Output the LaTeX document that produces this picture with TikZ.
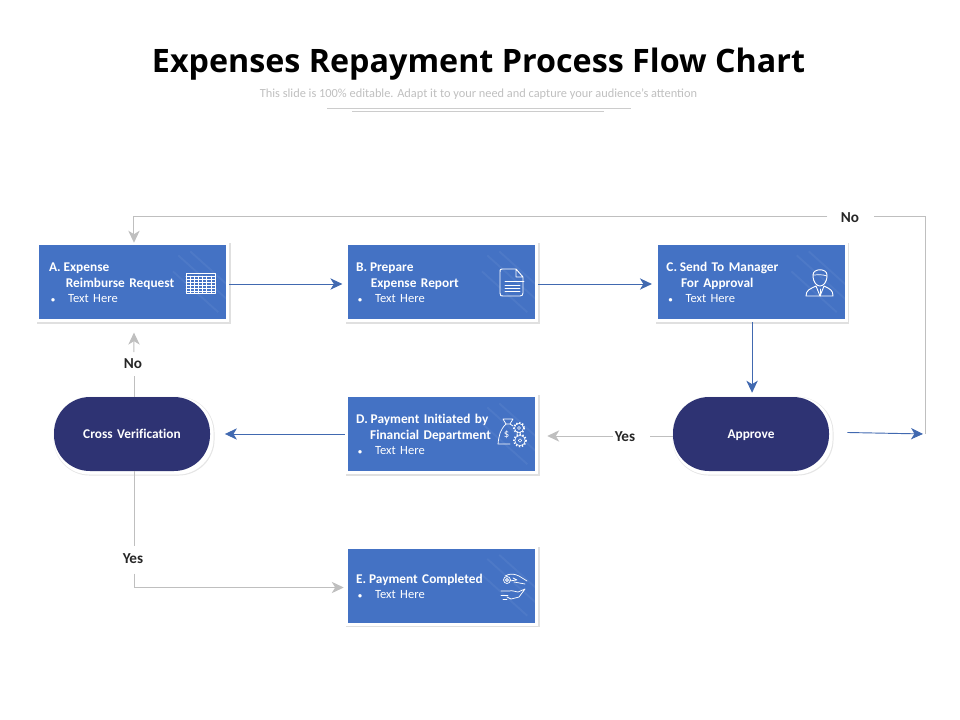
\documentclass[tikz,border=0pt]{standalone}
\usepackage{fontspec}
\setmainfont{Carlito}
\newfontfamily\titlefont{Open Sans}
\newfontfamily\boxfont[WordSpace=1.5,Ligatures=NoCommon]{Carlito}
\usetikzlibrary{arrows.meta,backgrounds,calc}
\definecolor{boxblue}{HTML}{4472C4}
\definecolor{navy}{HTML}{2E3373}
\definecolor{flowblue}{HTML}{4169B0}
\definecolor{flowgray}{HTML}{BFBFBF}
\definecolor{ink}{HTML}{262626}
\newcommand{\boxtext}{\boxfont\fontsize{10pt}{11.6pt}\selectfont\bfseries}
\newcommand{\bul}[2]{\mbox{}\makebox[#2][l]{\hspace{#1}{\fontsize{6pt}{6pt}\selectfont\textbullet}}{\mdseries\fontsize{9.4pt}{11.6pt}\selectfont Text Here}}
\newcommand{\topfix}{\rule{0pt}{8pt}}
\newcommand{\nudge}{\hspace{-1.2pt}}
\tikzset{
  stepbox/.style={rectangle,fill=boxblue,text=white,minimum width=140.25pt,minimum height=55.5pt,
    text width=128pt,inner xsep=6.1pt,inner ysep=0pt,align=left,font=\boxtext},
  pill/.style={rectangle,rounded corners=27pt,fill=navy,text=white,minimum width=117pt,minimum height=55.5pt,
    inner sep=0pt,align=center,text height=6.6pt,text depth=0pt,font=\boxfont\fontsize{10pt}{11pt}\selectfont\bfseries},
  flowlabel/.style={text=ink,font=\fontsize{11.4pt}{13pt}\selectfont\bfseries,inner sep=0pt},
  blueflow/.style={draw=flowblue,line width=0.7pt},
  grayflow/.style={draw=flowgray,line width=0.75pt},
  tip/.style={-{Stealth[length=9pt,width=8.5pt,inset=2.6pt]}},
  icon/.style={draw=white,line width=0.55pt,line join=round,line cap=round},
}
\begin{document}
\begin{tikzpicture}[x=0.75pt,y=-0.75pt]
\useasboundingbox (0,0) rectangle (960,720);
% title
\node[font=\titlefont\bfseries\fontsize{24.2pt}{30pt}\selectfont,text=black,inner sep=0pt] (title) at (478.5,64) {Expenses Repayment Process Flow Chart};
\node[font=\fontsize{9.27pt}{11pt}\selectfont,text=flowgray,inner sep=0pt] (subtitle) at (478.5,94) {This slide is 100\% editable. Adapt it to your need and capture your audience's attention};
\draw[draw=flowgray!80,line width=0.5pt] (327,108) -- (631,108);
\draw[draw=flowgray!80,line width=0.5pt] (352,111) -- (604,111);
% boxes
\node[stepbox] (A) at (132.5,282) {\topfix\hspace{1.4pt}A.\nudge{} Expense\\\hspace{14pt}Reimburse Request\\\bul{2.9pt}{15.7pt}};
\node[stepbox] (B) at (441.5,282) {\topfix B.\nudge{} Prepare\\\hspace{11pt}Expense Report\\\bul{1.4pt}{14.2pt}};
\node[stepbox] (C) at (751,282) {\topfix\hspace{0.6pt}C.\nudge{} Send To Manager\\\hspace{11.5pt}For Approval\\\bul{2.2pt}{14.9pt}};
\node[stepbox] (D) at (441.5,434) {\topfix D.\nudge{} Payment Initiated by\\\hspace{10.5pt}Financial Department\\\bul{1.4pt}{14.2pt}};
\node[stepbox] (E) at (441.5,585.5) {\topfix E.\nudge{} Payment Completed\\\bul{1.4pt}{14.2pt}};
\node[pill] (V) at (132,434) {Cross Verification};
\node[pill] (P) at (751,434) {Approve};
% shadows and stripes
\begin{scope}[on background layer]
  \foreach \n in {A,B,C,D,E}{
    \fill[black!12] ($(\n.north west)+(-1pt,1pt)$) rectangle ($(\n.south east)+(3.2pt,-3.2pt)$);
    \fill[white] ($(\n.north west)+(-1pt,1pt)$) rectangle ($(\n.south east)+(2.4pt,-2.4pt)$);
  }
  \foreach \n in {V,P}{
    \fill[black!10,rounded corners=27pt] ($(\n.north west)+(0pt,0pt)$) rectangle ($(\n.south east)+(3.2pt,-3.2pt)$);
    \fill[white,rounded corners=27pt] ($(\n.north west)+(0pt,0pt)$) rectangle ($(\n.south east)+(2.5pt,-2.5pt)$);
  }
\end{scope}
\foreach \n in {A,B,C,D,E}{
  \begin{scope}
    \clip (\n.north west) rectangle (\n.south east);
    \draw[white,opacity=0.05,line width=1.4pt] ($(\n.north east)+(-36pt,-8pt)$) -- ++(42pt,-37.8pt);
    \draw[white,opacity=0.05,line width=1.4pt] ($(\n.north east)+(-27pt,-5pt)$) -- ++(32pt,-28.8pt);
    \draw[white,opacity=0.05,line width=1.4pt] ($(\n.north east)+(-40pt,-20pt)$) -- ++(34pt,-30.6pt);
  \end{scope}
}
% icon A: calendar table
\begin{scope}[shift={(186,272)}]
  \draw[icon] (0,1) rectangle (29,21);
  \draw[icon] (0,4) -- (29,4);
  \foreach \y in {7,10,13,16,19} \draw[icon,line width=0.35pt] (0,\y) -- (29,\y);
  \foreach \x in {4,8,12,16,20,25} \draw[icon,line width=0.35pt] (\x,4) -- (\x,21);
\end{scope}
% icon B: document
\begin{scope}[shift={(500,269)}]
  \draw[icon,line width=0.7pt] (16,0) -- (2,0) .. controls (0,0) and (0,1) .. (0,3) -- (0,24) .. controls (0,27) and (1,27) .. (3,27) -- (20,27) .. controls (22,27) and (23,26) .. (23,24) -- (23,8) -- (16,0) -- (16,8) -- (23,8);
  \foreach \y/\e in {12/24,16/20,19/20,22/20} \draw[icon] (5,\y) -- (\e,\y);
\end{scope}
% icon C: person
\begin{scope}[shift={(806,268)}]
  \draw[icon,line width=0.7pt] (7,7) .. controls (7,0) and (21,0) .. (21,7) .. controls (21,15) and (17,18) .. (14,18) .. controls (11,18) and (7,15) .. (7,7);
  \draw[icon] (7,7) .. controls (11,7) and (16,6) .. (21,8);
  \draw[icon,line width=0.7pt] (0,28) .. controls (0,22) and (4,21) .. (10,18) -- (14,28) -- (18,18) .. controls (24,21) and (27,22) .. (27,28) -- cycle;
  \draw[icon] (14,21) -- (14,28);
\end{scope}
% icon D: money bag and gears
\begin{scope}[shift={(498,418)}]
  \draw[icon] (5,1) -- (15,1) -- (12,6) -- (8,6) -- cycle;
  \draw[icon] (8,6) .. controls (2,12) and (1,17) .. (0,26) -- (12,26);
  \draw[icon] (12,6) -- (15,8);
  \node[text=white,inner sep=0pt,font=\fontsize{8pt}{9pt}\selectfont] (dollar) at (8.5,17) {\$};
  \draw[icon,line width=0.45pt] (21,10) circle (4.5);
  \draw[icon,line cap=butt,dash pattern=on 1pt off 1.3pt,line width=1.2pt] (21,10) circle (5.3);
  \draw[icon,line width=0.4pt] (21,10) circle (1.6);
  \draw[icon,line width=0.45pt] (22,22.5) circle (5.2);
  \draw[icon,line cap=butt,dash pattern=on 1pt off 1.3pt,line width=1.2pt] (22,22.5) circle (6);
  \draw[icon,line width=0.4pt] (22,22.5) circle (1.8);
\end{scope}
% icon E: hands and coin
\begin{scope}[shift={(500,573)}]
  \draw[icon] (7,7) circle (3.5);
  \draw[icon] (7,7) circle (1.5);
  \draw[icon] (5,3) .. controls (10,0) and (15,1) .. (19,3) -- (27,8);
  \draw[icon] (9,8) -- (17,7) -- (13,5);
  \draw[icon] (14,9) -- (25,11);
  \draw[icon] (1,18) -- (9,18) .. controls (13,17) and (15,19) .. (18,19) -- (25,16) -- (19,24) -- (11,26) -- (7,24);
  \draw[icon] (1,22) -- (8,22);
  \draw[icon] (3,26) -- (7,26);
\end{scope}
% labels
\node[flowlabel] (noT) at (850,218) {No};
\node[flowlabel] (noL) at (133,364) {No};
\node[flowlabel] (yesR) at (625,437) {Yes};
\node[flowlabel] (yesB) at (133,559) {Yes};
% free ends
\coordinate (jn) at (925,434);
\coordinate (topA) at ($(A.north)+(1.1pt,0)$);
\coordinate (botA) at ($(A.south)+(1.1pt,0)$);
\coordinate (topV) at ($(V.north)+(1.5pt,0)$);
\coordinate (botV) at ($(V.south)+(1.5pt,0)$);
\coordinate (topE) at ($(noT.center)+(0,-1)$);
\coordinate (yesIn) at ($(yesR.center)+(0,-1)$);
% blue connectors
\draw[blueflow,tip,shorten <=2.2pt,shorten >=4pt] ([yshift=-1.5pt]A.east) -- ([yshift=-1.5pt]B.west);
\draw[blueflow,tip,shorten <=2.2pt,shorten >=4pt] ([yshift=-1.5pt]B.east) -- ([yshift=-1.5pt]C.west);
\draw[blueflow,tip,shorten <=2.2pt,shorten >=3pt] ([xshift=0.8pt]C.south) -- ([xshift=0.8pt]P.north);
\draw[blueflow,tip,shorten <=2.2pt,shorten >=11pt] (D.west) -- (V.east);
\draw[blueflow,tip,shorten <=13.5pt,shorten >=1.5pt] ([yshift=1.4pt]P.east) -- (jn);
% gray connectors
\draw[grayflow] (jn) |- ([xshift=18pt]topE);
\draw[grayflow,tip,shorten <=17pt,shorten >=1.5pt] (topE) -| (topA);
\draw[grayflow,tip,shorten <=9pt,shorten >=10pt] (topV |- noL) -- (botA);
\draw[grayflow,shorten >=9pt] (topV) -- (topV |- noL);
\draw[grayflow,shorten >=10pt] (botV) -- (botV |- yesB);
\draw[grayflow,tip,shorten <=11pt,shorten >=3pt] (botV |- yesB) |- ([yshift=-1.5pt]E.west);
\draw[grayflow,shorten >=14pt] ([yshift=-1.5pt]P.west) -- ([xshift=5pt]yesIn);
\draw[grayflow,tip,shorten <=9pt,shorten >=9pt] (yesIn) -- (D.east |- yesIn);
\end{tikzpicture}
\end{document}
